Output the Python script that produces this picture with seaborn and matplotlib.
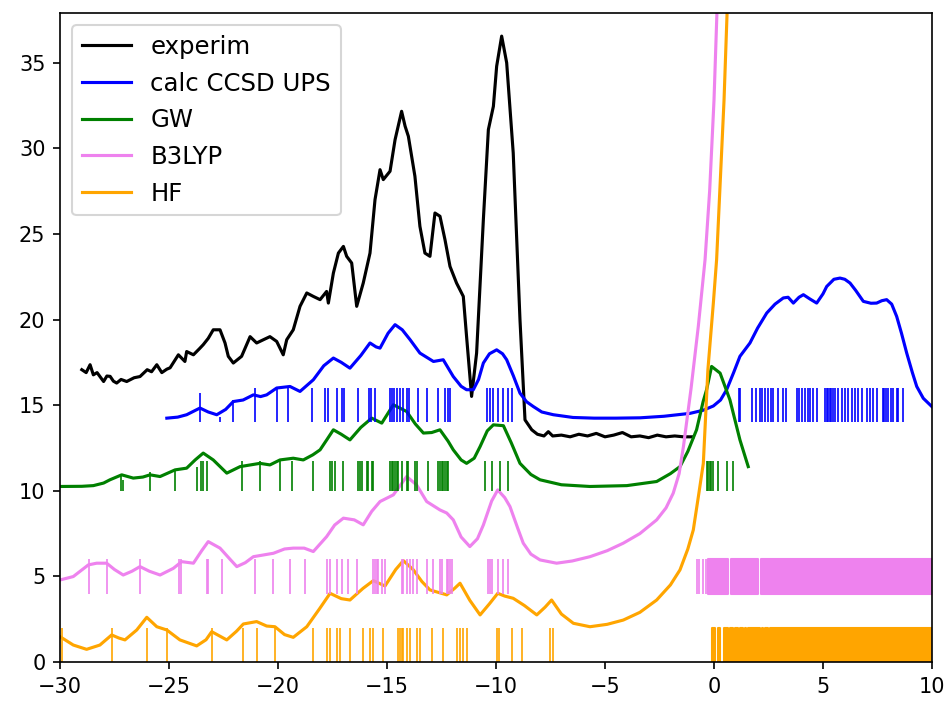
import matplotlib
matplotlib.use("Agg")
import matplotlib.pyplot as plt
import seaborn as sns

# broadened spectra, (energy, intensity)
experim = [(-29.0, 17.07), (-28.8, 16.9), (-28.62, 17.36), (-28.47, 16.77), (-28.3, 16.9), (-28.0, 16.38),
           (-27.85, 16.7), (-27.7, 16.68), (-27.55, 16.4), (-27.4, 16.29), (-27.2, 16.5), (-26.94, 16.38),
           (-26.6, 16.6), (-26.33, 16.67), (-26.0, 17.07), (-25.8, 16.95), (-25.56, 17.36), (-25.33, 16.9),
           (-25.1, 17.1), (-24.95, 17.18), (-24.57, 17.94), (-24.27, 17.55), (-24.19, 18.13), (-23.88, 17.94),
           (-23.6, 18.3), (-23.43, 18.53), (-23.2, 18.9), (-22.97, 19.4), (-22.66, 19.4), (-22.43, 18.63),
           (-22.28, 17.85), (-22.05, 17.46), (-21.67, 17.85), (-21.28, 19.0), (-20.98, 18.63), (-20.67, 18.82),
           (-20.37, 19.0), (-20.06, 18.72), (-19.76, 17.94), (-19.6, 18.82), (-19.3, 19.4), (-18.99, 20.77),
           (-18.68, 21.55), (-18.38, 21.35), (-18.07, 21.16), (-17.77, 21.64), (-17.69, 20.96), (-17.46, 22.71),
           (-17.23, 23.88), (-17.0, 24.27), (-16.85, 23.69), (-16.62, 23.3), (-16.39, 20.77), (-16.09, 22.13),
           (-15.78, 23.88), (-15.55, 27.0), (-15.32, 28.75), (-15.17, 28.17), (-14.86, 28.66), (-14.63, 30.5),
           (-14.33, 32.16), (-14.17, 31.29), (-14.02, 30.7), (-13.72, 28.37), (-13.49, 25.44), (-13.26, 23.88),
           (-13.03, 23.69), (-12.8, 26.22), (-12.57, 26.03), (-12.34, 24.66), (-12.11, 23.1), (-11.81, 22.13),
           (-11.5, 21.35), (-11.35, 19.01), (-11.12, 15.51), (-10.89, 18.04), (-10.58, 25.83), (-10.35, 31.09),
           (-10.12, 32.45), (-9.97, 34.79), (-9.74, 36.55), (-9.51, 34.99), (-9.21, 29.73), (-8.9, 19.99),
           (-8.67, 14.14), (-8.36, 13.56), (-8.1, 13.3), (-7.8, 13.2), (-7.6, 13.45), (-7.4, 13.2), (-7.0, 13.25),
           (-6.6, 13.15), (-6.2, 13.3), (-5.8, 13.2), (-5.4, 13.35), (-5.0, 13.15), (-4.6, 13.25), (-4.2, 13.4),
           (-3.8, 13.15), (-3.4, 13.2), (-3.0, 13.1), (-2.6, 13.25), (-2.2, 13.15), (-1.8, 13.2), (-1.4, 13.15),
           (-0.96, 13.15)]

ccsd = [(-25.1, 14.24), (-24.6, 14.3), (-24.19, 14.44), (-23.58, 14.83), (-23.2, 14.6), (-22.81, 14.44),
        (-22.4, 14.75), (-22.05, 15.21), (-21.6, 15.3), (-21.13, 15.6), (-20.8, 15.5), (-20.52, 15.6),
        (-20.06, 16.0), (-19.45, 16.09), (-18.99, 15.8), (-18.38, 16.48), (-17.9, 17.3), (-17.46, 17.75),
        (-17.1, 17.5), (-16.7, 17.16), (-16.2, 17.9), (-15.78, 18.63), (-15.5, 18.4), (-15.32, 18.33),
        (-14.95, 19.2), (-14.63, 19.7), (-14.3, 19.4), (-13.94, 18.82), (-13.49, 18.04), (-12.87, 17.55),
        (-12.42, 17.65), (-11.96, 16.67), (-11.6, 16.1), (-11.35, 15.9), (-11.04, 15.9), (-10.8, 16.5),
        (-10.58, 17.46), (-10.3, 18.0), (-9.97, 18.23), (-9.7, 18.0), (-9.51, 17.65), (-9.2, 16.7),
        (-8.9, 15.7), (-8.6, 15.2), (-8.29, 14.92), (-7.9, 14.6), (-7.37, 14.44), (-6.47, 14.28),
        (-5.5, 14.24), (-4.5, 14.24), (-3.39, 14.26), (-2.3, 14.35), (-1.1, 14.52), (-0.5, 14.7),
        (-0.03, 14.95), (0.3, 15.3), (0.58, 15.9), (0.9, 16.9), (1.19, 17.85), (1.65, 18.63), (2.0, 19.5),
        (2.42, 20.38), (2.8, 20.9), (3.18, 21.26), (3.4, 21.3), (3.64, 20.96), (3.9, 21.3), (4.1, 21.45),
        (4.4, 21.2), (4.71, 20.96), (5.0, 21.5), (5.17, 21.93), (5.5, 22.35), (5.78, 22.42), (6.0, 22.35),
        (6.24, 22.13), (6.5, 21.7), (6.85, 21.06), (7.2, 20.95), (7.46, 20.96), (7.7, 21.1), (7.92, 21.16),
        (8.15, 20.9), (8.38, 20.18), (8.6, 19.2), (8.84, 18.04), (9.1, 16.9), (9.3, 16.09), (9.6, 15.4),
        (9.99, 14.92)]

gw = [(-30.0, 10.25), (-29.0, 10.26), (-28.47, 10.3), (-28.0, 10.45), (-27.71, 10.64), (-27.17, 10.93),
      (-26.64, 10.74), (-26.2, 10.8), (-25.87, 10.93), (-25.41, 10.83), (-24.72, 11.22), (-24.19, 11.32),
      (-23.8, 11.8), (-23.43, 12.2), (-22.97, 11.8), (-22.35, 11.03), (-21.74, 11.41), (-20.83, 11.6),
      (-20.37, 11.51), (-19.91, 11.8), (-19.3, 11.9), (-18.84, 11.8), (-18.4, 12.1), (-18.07, 12.39),
      (-17.75, 13.0), (-17.46, 13.56), (-17.1, 13.3), (-16.7, 12.97), (-16.2, 13.7), (-15.7, 14.24),
      (-15.24, 13.95), (-14.71, 15.02), (-14.1, 14.63), (-13.7, 13.9), (-13.33, 13.37), (-12.95, 13.4),
      (-12.57, 13.56), (-12.2, 12.9), (-11.96, 12.39), (-11.6, 11.8), (-11.35, 11.6), (-11.0, 11.9),
      (-10.73, 12.58), (-10.4, 13.5), (-10.12, 13.85), (-9.66, 13.8), (-9.3, 12.8), (-8.9, 11.6),
      (-8.4, 10.95), (-7.98, 10.64), (-7.0, 10.35), (-5.69, 10.25), (-4.0, 10.3), (-2.63, 10.54),
      (-2.0, 11.0), (-1.56, 11.41), (-1.2, 12.3), (-0.8, 13.56), (-0.5, 15.2), (-0.34, 15.9),
      (-0.11, 17.26), (0.28, 16.87), (0.73, 15.31), (1.19, 12.97), (1.57, 11.41)]

b3lyp = [(-30.0, 4.79), (-29.39, 4.99), (-28.7, 5.67), (-28.32, 5.77), (-27.86, 5.77), (-27.5, 5.4),
         (-27.1, 5.08), (-26.7, 5.3), (-26.33, 5.57), (-25.9, 5.3), (-25.41, 5.08), (-24.8, 5.47),
         (-24.42, 5.86), (-23.88, 5.77), (-23.5, 6.5), (-23.2, 7.03), (-22.66, 6.65), (-22.2, 6.0),
         (-21.89, 5.57), (-21.5, 5.8), (-21.13, 6.15), (-20.21, 6.35), (-19.7, 6.6), (-19.3, 6.65),
         (-18.8, 6.65), (-18.38, 6.45), (-17.77, 7.32), (-17.4, 8.0), (-17.0, 8.4), (-16.5, 8.3),
         (-16.09, 8.01), (-15.7, 8.8), (-15.32, 9.37), (-14.71, 9.76), (-14.4, 10.3), (-14.1, 10.83),
         (-13.64, 10.34), (-13.18, 9.37), (-12.57, 8.88), (-12.26, 8.7), (-11.96, 8.3), (-11.6, 7.3),
         (-11.2, 6.74), (-10.85, 7.2), (-10.58, 8.0), (-10.2, 9.4), (-9.92, 10.05), (-9.6, 9.6),
         (-9.36, 9.08), (-9.0, 7.8), (-8.75, 6.94), (-8.4, 6.3), (-7.98, 5.96), (-7.22, 5.77), (-6.5, 5.9),
         (-5.69, 6.15), (-4.9, 6.5), (-4.16, 6.94), (-3.4, 7.5), (-2.63, 8.3), (-2.2, 9.0), (-1.87, 9.86),
         (-1.6, 11.0), (-1.4, 12.6), (-1.05, 16.0), (-0.72, 19.6), (-0.41, 23.5), (-0.2, 27.5),
         (0.0, 32.8), (0.15, 38.5), (0.3, 45.0)]

hf = [(-30.0, 1.48), (-29.39, 0.99), (-28.78, 0.74), (-28.17, 0.99), (-27.63, 1.58), (-27.3, 1.4),
      (-27.02, 1.29), (-26.48, 1.87), (-26.02, 2.61), (-25.56, 2.06), (-25.1, 1.87), (-24.5, 1.29),
      (-23.73, 0.94), (-23.3, 1.3), (-23.04, 1.77), (-22.35, 1.29), (-21.9, 1.8), (-21.59, 2.22),
      (-20.98, 2.36), (-20.52, 2.1), (-20.14, 2.06), (-19.7, 1.6), (-19.3, 1.44), (-18.68, 2.06),
      (-18.1, 3.1), (-17.61, 4.01), (-17.1, 3.7), (-16.7, 3.62), (-16.1, 4.3), (-15.63, 4.75),
      (-15.09, 4.44), (-14.6, 5.4), (-14.25, 5.92), (-13.79, 5.38), (-13.4, 4.7), (-13.03, 4.21),
      (-12.26, 3.92), (-11.9, 4.3), (-11.65, 4.6), (-11.2, 3.6), (-10.73, 2.75), (-10.3, 3.4),
      (-9.92, 4.01), (-9.6, 3.85), (-9.21, 3.72), (-8.7, 3.3), (-8.13, 2.75), (-7.75, 3.2), (-7.45, 3.62),
      (-7.0, 2.8), (-6.45, 2.26), (-5.69, 2.06), (-4.9, 2.2), (-4.16, 2.45), (-3.4, 2.9), (-2.63, 3.62),
      (-2.0, 4.5), (-1.56, 5.38), (-1.2, 6.6), (-0.95, 7.71), (-0.7, 9.8), (-0.49, 11.6), (-0.28, 17.07),
      (-0.03, 20.96), (0.12, 23.5), (0.46, 32.8), (0.6, 37.9), (0.75, 45.0)]

# stick positions (eigenvalues)
ccsd_sticks = [-21.06, -20.06, -19.53, -18.46, -17.84, -17.69, -17.31, -17.05, -16.95, -16.32, -15.81,
               -15.72, -15.55, -14.86, -14.76, -14.67, -14.56, -14.4, -14.25, -14.07, -13.98, -13.56,
               -13.18, -12.65, -12.34, -12.2, -12.11, -10.43, -10.28, -10.12, -9.89, -9.66, -9.43, -9.28,
               1.16, 1.2, 1.73, 1.93, 2.11, 2.22, 2.34, 2.49, 2.6, 2.72, 2.95, 3.15, 3.3, 3.79, 3.91, 4.02,
               4.17, 4.33, 4.4, 4.56, 4.71, 5.09, 5.17, 5.24, 5.3, 5.35, 5.44, 5.55, 5.7, 5.86, 6.01, 6.16,
               6.32, 6.47, 6.62, 6.78, 7.0, 7.16, 7.31, 7.46, 7.77, 7.82, 7.87, 8.0, 8.11, 8.23, 8.38,
               8.45, 8.68]
ccsd_weak = [(-23.58, 1.7), (-22.66, 0.3), (-22.05, 1.3)]

gw_sticks = [-23.55, -23.43, -23.27, -21.67, -20.83, -19.91, -19.37, -18.38, -17.61, -17.54, -17.39,
             -17.0, -16.32, -16.24, -16.16, -15.93, -15.86, -15.7, -15.63, -14.86, -14.79, -14.71,
             -14.63, -14.56, -14.48, -14.33, -14.1, -14.02, -13.72, -13.64, -13.1, -12.65, -12.57,
             -12.49, -12.42, -12.34, -12.26, -12.19, -10.5, -10.2, -9.82, -9.43,
             -0.34, -0.27, -0.2, -0.13, -0.03, 0.2, 0.58, 0.89]
gw_weak = [(-27.2, 0.85), (-27.1, 0.65), (-25.87, 1.1), (-24.72, 1.2), (-23.73, 1.4)]

b3lyp_sticks = [-28.65, -27.86, -26.33, -24.53, -24.46, -23.27, -23.2, -22.58, -21.06, -20.21, -19.45,
                -18.76, -17.77, -17.61, -17.31, -17.08, -16.78, -16.39, -15.63, -15.55, -15.47, -15.4,
                -15.24, -15.09, -14.33, -14.25, -14.1, -13.94, -13.79, -13.64, -13.18, -12.87, -12.57,
                -12.49, -12.26, -12.19, -12.11, -12.03, -10.35, -10.27, -10.2, -9.89, -9.66, -9.43,
                -0.8, -0.67, -0.5, -0.36]
b3lyp_dense = [(-0.26, 0.66), (0.77, 2.03), (2.14, 10.5)]

hf_sticks = [-29.92, -27.63, -26.02, -25.1, -23.04, -21.59, -20.98, -20.14, -18.38, -17.77, -17.61,
             -17.31, -17.16, -16.7, -16.09, -15.78, -15.63, -15.17, -14.48, -14.4, -14.33, -14.25,
             -14.1, -13.94, -13.64, -13.49, -12.95, -12.42, -11.81, -11.65, -11.5, -11.35, -9.97,
             -9.85, -9.28, -8.82, -7.52, -7.4]
hf_dense = [(-0.11, 0.05), (0.2, 0.28), (0.47, 0.66), (0.73, 0.89), (0.96, 1.11), (1.19, 1.35),
            (1.42, 1.46), (1.58, 2.11), (2.19, 2.26), (2.34, 2.49), (2.57, 10.5)]

fig, ax = plt.subplots(figsize=(950 / 150, 702 / 150), dpi=150)
fig.subplots_adjust(left=60 / 950, right=932 / 950, bottom=40 / 702, top=1 - 13 / 702)

curves = [(experim, 'black', 'experim'), (ccsd, 'blue', 'calc CCSD UPS'), (gw, 'green', 'GW'),
          (b3lyp, 'violet', 'B3LYP'), (hf, 'orange', 'HF')]
for pts, col, lab in curves:
    xs = [p[0] for p in pts]
    ys = [p[1] for p in pts]
    sns.lineplot(x=xs, y=ys, color=col, label=lab, ax=ax, sort=False)

# sticks: base, full length
ax.vlines(ccsd_sticks, 14, 16, color='blue', lw=0.8)
ax.vlines([p[0] for p in ccsd_weak], 14, [14 + p[1] for p in ccsd_weak], color='blue', lw=0.8)
ax.vlines(gw_sticks, 10, 11.75, color='green', lw=0.8)
ax.vlines([p[0] for p in gw_weak], 10, [10 + p[1] for p in gw_weak], color='green', lw=0.8)
ax.vlines(b3lyp_sticks, 4, 6, color='violet', lw=0.8)
ax.broken_barh([(a, b - a) for a, b in b3lyp_dense], (4, 2), color='violet')
ax.vlines(hf_sticks, 0, 2, color='orange', lw=0.8)
ax.broken_barh([(a, b - a) for a, b in hf_dense], (0, 2), color='orange')

ax.set_xlim(-30, 10)
ax.set_ylim(0, 37.9)
ax.legend(loc='upper left', fontsize=11.7, labelspacing=0.52)
fig.savefig('out.png', dpi=150)
